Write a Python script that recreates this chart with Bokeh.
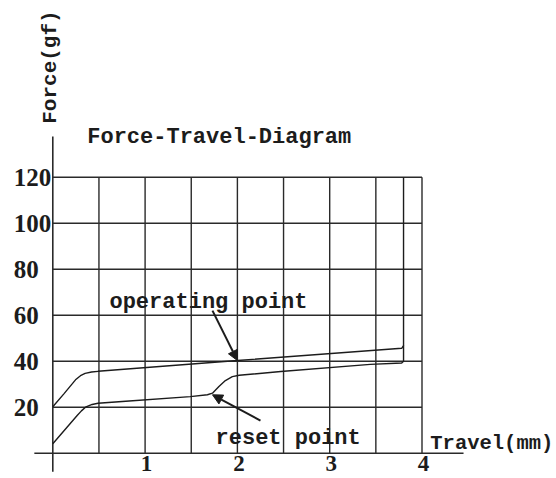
import math
from bokeh.plotting import figure
from bokeh.models import Range1d, Label, Arrow, NormalHead, ColumnDataSource
from bokeh.core.properties import value
from bokeh.embed import file_html
from bokeh.resources import INLINE

# ---- data ----
x_ticks = [1, 2, 3, 4]
x_tick_labels = ["1", "2", "3", "4"]
y_ticks = [20, 40, 60, 80, 100, 120]
y_tick_labels = ["20", "40", "60", "80", "100", "120"]
grid_x = [0.5, 1.0, 1.5, 2.0, 2.5, 3.0, 3.5, 4.0]

# operating (press) stroke
upper_x = [0.0, 0.12, 0.246, 0.30, 0.35, 0.42, 0.49, 2.0, 3.78, 3.80, 3.80]
upper_y = [20.2, 25.8, 31.9, 33.7, 34.7, 35.3, 35.6, 40.3, 45.6, 46.8, 120.0]
# reset (release) stroke
lower_x = [0.0, 0.264, 0.31, 0.354, 0.426, 0.49, 0.79, 1.49, 1.675, 1.73, 1.80,
           1.87, 1.945, 2.02, 2.47, 3.44, 3.78, 3.80, 3.80]
lower_y = [4.1, 16.4, 18.4, 20.0, 21.2, 21.7, 22.6, 24.6, 25.4, 26.1, 29.0,
           31.6, 33.3, 33.9, 35.5, 38.6, 39.2, 40.0, 46.8]

operating_point = (2.0, 40.3)
reset_point = (1.73, 25.4)

title_text = "Force-Travel-Diagram"
x_label = "Travel(mm)"
y_label = "Force(gf)"

INK = "#1c1c1c"
MONO = "Liberation Mono"
SERIF = "Liberation Serif"

p = figure(width=556, height=478,
           x_range=Range1d(-0.5666, 5.4572), y_range=Range1d(-11.0, 196.83),
           output_backend="svg", toolbar_location=None,
           x_axis_location=None, y_axis_location=None, min_border=0)
p.grid.visible = False
p.outline_line_color = None
p.background_fill_color = "white"
p.border_fill_color = "white"

# grid
top = y_ticks[-1]
right = x_ticks[-1]
p.segment(x0=grid_x, y0=[0] * len(grid_x), x1=grid_x, y1=[top] * len(grid_x),
          line_color="#2a2a2a", line_width=1.4)
p.segment(x0=[0] * len(y_ticks), y0=y_ticks, x1=[right] * len(y_ticks), y1=y_ticks,
          line_color="#2a2a2a", line_width=1.4)

# axis lines
p.segment(x0=[0], y0=[-8.1], x1=[0], y1=[137.7], line_color="#2a2a2a", line_width=1.6)
p.segment(x0=[-0.2], y0=[0], x1=[4.45], y1=[0], line_color="#2a2a2a", line_width=1.6)

# curves
p.line(upper_x, upper_y, line_color=INK, line_width=1.4)
p.line(lower_x, lower_y, line_color=INK, line_width=1.4)

# tick labels
ysrc = ColumnDataSource(dict(y=y_ticks, t=y_tick_labels, x=[-0.4225] * len(y_ticks)))
p.text(x="x", y="y", text="t", source=ysrc, text_font=value(SERIF),
       text_font_style="bold", text_font_size="25px", text_color=INK,
       text_align="left", text_baseline="middle")
xsrc = ColumnDataSource(dict(x=x_ticks, t=x_tick_labels, y=[0] * len(x_ticks)))
p.text(x="x", y="y", text="t", source=xsrc, text_font=value(SERIF),
       text_font_style="bold", text_font_size="23px", text_color=INK,
       text_align="center", text_baseline="top", x_offset=1.5, y_offset=3)

def lab(x, y, text, size="22px", **kw):
    p.add_layout(Label(x=x, y=y, text=text, text_font=MONO, text_font_style="bold",
                       text_font_size=size, text_color=INK, **kw))

lab(0.373, 137.4, title_text, size="22px", text_baseline="alphabetic")
lab(0.614, 65.7, "operating point", text_baseline="alphabetic")
lab(1.763, 6.3, "reset point", text_baseline="alphabetic")
lab(4.09, 4.2, x_label, size="20.5px", text_baseline="alphabetic")
lab(-0.025, 167.9, y_label, size="21px", angle=math.pi / 2,
    text_align="center", text_baseline="middle")

# arrows
p.add_layout(Arrow(end=NormalHead(size=10, fill_color=INK, line_color=INK),
                   x_start=1.73, y_start=62.0,
                   x_end=operating_point[0], y_end=operating_point[1],
                   line_color=INK, line_width=2))
p.add_layout(Arrow(end=NormalHead(size=10, fill_color=INK, line_color=INK),
                   x_start=2.25, y_start=14.2,
                   x_end=reset_point[0], y_end=reset_point[1],
                   line_color=INK, line_width=2))

open("out.html", "w").write(file_html(p, INLINE))
